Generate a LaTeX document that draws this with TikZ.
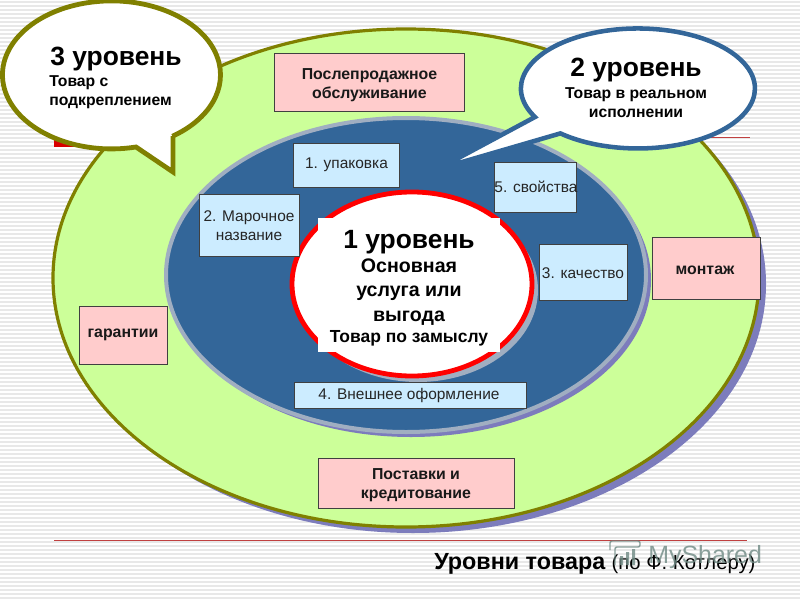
\documentclass[tikz,border=0pt]{standalone}
\usepackage{fontspec}
\setmainfont{Liberation Sans}
\definecolor{olv}{HTML}{808000}
\definecolor{lime}{HTML}{CCFF99}
\definecolor{shd}{HTML}{7C7CBC}
\definecolor{navy}{HTML}{336699}
\definecolor{edge}{HTML}{A0AEC1}
\definecolor{pinkb}{HTML}{FFCCCC}
\definecolor{blueb}{HTML}{CCECFF}
\definecolor{stripe}{HTML}{E8E8E8}
\definecolor{rul}{HTML}{C04040}
\definecolor{wmk}{HTML}{6F8A84}
\tikzset{
  pinkbox/.style={draw=black!75,line width=0.6pt,fill=pinkb,inner sep=0pt},
  bluebox/.style={draw=black!75,line width=0.6pt,fill=blueb,inner sep=0pt},
  pinktext/.style={align=center,inner sep=0pt,font=\fontsize{11.9}{14.2}\selectfont\bfseries,text=black!90},
  bluetext/.style={align=center,font=\fontsize{11.6}{14.2}\selectfont,text=black!85,inner sep=0pt},
  bigtext/.style={font=\fontsize{19.8}{22}\selectfont\bfseries,inner sep=0pt},
  subtext/.style={font=\fontsize{11.8}{14.2}\selectfont\bfseries,inner sep=0pt},
}
\begin{document}
\begin{tikzpicture}[x=0.75pt,y=-0.75pt]
\useasboundingbox (0,0) rectangle (800,600);
\fill[white] (0,0) rectangle (800,600);
\foreach \yy in {2,6,...,598} \draw[stripe,line width=1.1pt] (0,\yy) -- (800,\yy);
% rules
\draw[rul,line width=0.6pt] (54,137) -- (750,137);
\draw[rul,line width=0.6pt] (54,540) -- (747,540);
\fill[red!85!black] (54,128) rectangle (80,147);
% outer ellipse
\fill[shd] (413,284) ellipse [x radius=353,y radius=249];
\draw[olv,fill=lime,line width=2.4pt] (406,278) ellipse [x radius=353,y radius=249];
% middle ellipse
\fill[shd] (411,280) ellipse [x radius=240,y radius=157];
\draw[edge,fill=navy,line width=3pt] (406,275) ellipse [x radius=240,y radius=157];
% inner ellipse
\fill[edge] (418,290) ellipse [x radius=120,y radius=92];
\draw[red,fill=white,line width=3.6pt] (412,284) ellipse [x radius=120,y radius=92];
\fill[white] (318,218) rectangle (500,352);
% boxes
\node[pinkbox,minimum width=142pt,minimum height=43pt] (posl) at (369.5,82.5) {};
\node[pinktext] (poslt) at (369.5,85) {Послепродажное\\обслуживание};
\node[pinkbox,minimum width=81pt,minimum height=47pt] (mont) at (706,268.5) {};
\node[pinktext] (montt) at (705,270) {монтаж};
\node[pinkbox,minimum width=66pt,minimum height=43pt] (gar) at (123,335.5) {};
\node[pinktext] (gart) at (123,335) {гарантии};
\node[pinkbox,minimum width=147pt,minimum height=38pt] (post) at (416,483.5) {};
\node[pinktext] (postt) at (416,485.5) {Поставки и\\кредитование};
\node[bluebox,minimum width=80pt,minimum height=33pt] (b1) at (346.5,165) {};
\node[bluetext] (b1t) at (346.5,165) {1. упаковка};
\node[bluebox,minimum width=75pt,minimum height=46.5pt] (b2) at (249,225) {};
\node[bluetext] (b2t) at (249,226) {2. Марочное\\название};
\node[bluebox,minimum width=62pt,minimum height=37.5pt] (b5) at (535.5,187) {};
\node[bluetext] (b5t) at (536,187) {5. свойства};
\node[bluebox,minimum width=66pt,minimum height=42pt] (b3) at (583,272) {};
\node[bluetext] (b3t) at (583,273) {3. качество};
\node[bluebox,minimum width=174pt,minimum height=19.5pt] (b4) at (410,395) {};
\node[bluetext] (b4t) at (409,395) {4. Внешнее оформление};
% level 1 text
\node[bigtext] (l1) at (409,242) {1 уровень};
\node[font=\fontsize{14.7}{18.4}\selectfont\bfseries,align=center,inner sep=0pt] (l1b) at (409,292) {Основная\\услуга или\\выгода};
\node[font=\fontsize{13.1}{15}\selectfont\bfseries,inner sep=0pt] (l1c) at (409,338) {Товар по замыслу};
% callout 3
\draw[olv,fill=white,line width=3.6pt,miter limit=10] (173,136) -- (173,172) -- (136,147)
  arc[start angle=77,end angle=416,x radius=109,y radius=74] -- cycle;
\node[bigtext,anchor=west] (l3) at (50,59) {3 уровень};
\node[subtext,align=left,anchor=north west] (l3b) at (49,75) {Товар с\\подкреплением};
% callout 2
\draw[navy,fill=white,line width=3.4pt,miter limit=14] (535,117)
  arc[start angle=151.6,end angle=491.5,x radius=117,y radius=60] -- (438,169) -- cycle;
\node[bigtext] (l2) at (636,70) {2 уровень};
\node[subtext,align=center] (l2b) at (636,103) {Товар в реальном\\исполнении};
% caption
\node[anchor=base west,inner sep=0pt] (cap) at (434,569) {{\fontsize{17.5}{20}\selectfont\bfseries Уровни товара}\hspace{2pt} {\fontsize{15.2}{20}\selectfont (по Ф. Котлеру)}};
% watermark
\node[font=\fontsize{18.7}{22}\selectfont,text=wmk,opacity=.8,anchor=base west,inner sep=0pt] (wm) at (648,563) {MyShared};
\draw[wmk,opacity=.8,line width=1.1pt,rounded corners=1.5pt] (610,550) -- (610,541) -- (640,541) -- (640,547) -- (615,547) -- (615,565);
\fill[wmk,opacity=.8] (620,556) rectangle (623,565) (626,552) rectangle (629,565) (632,549) rectangle (635,565);
\end{tikzpicture}
\end{document}
